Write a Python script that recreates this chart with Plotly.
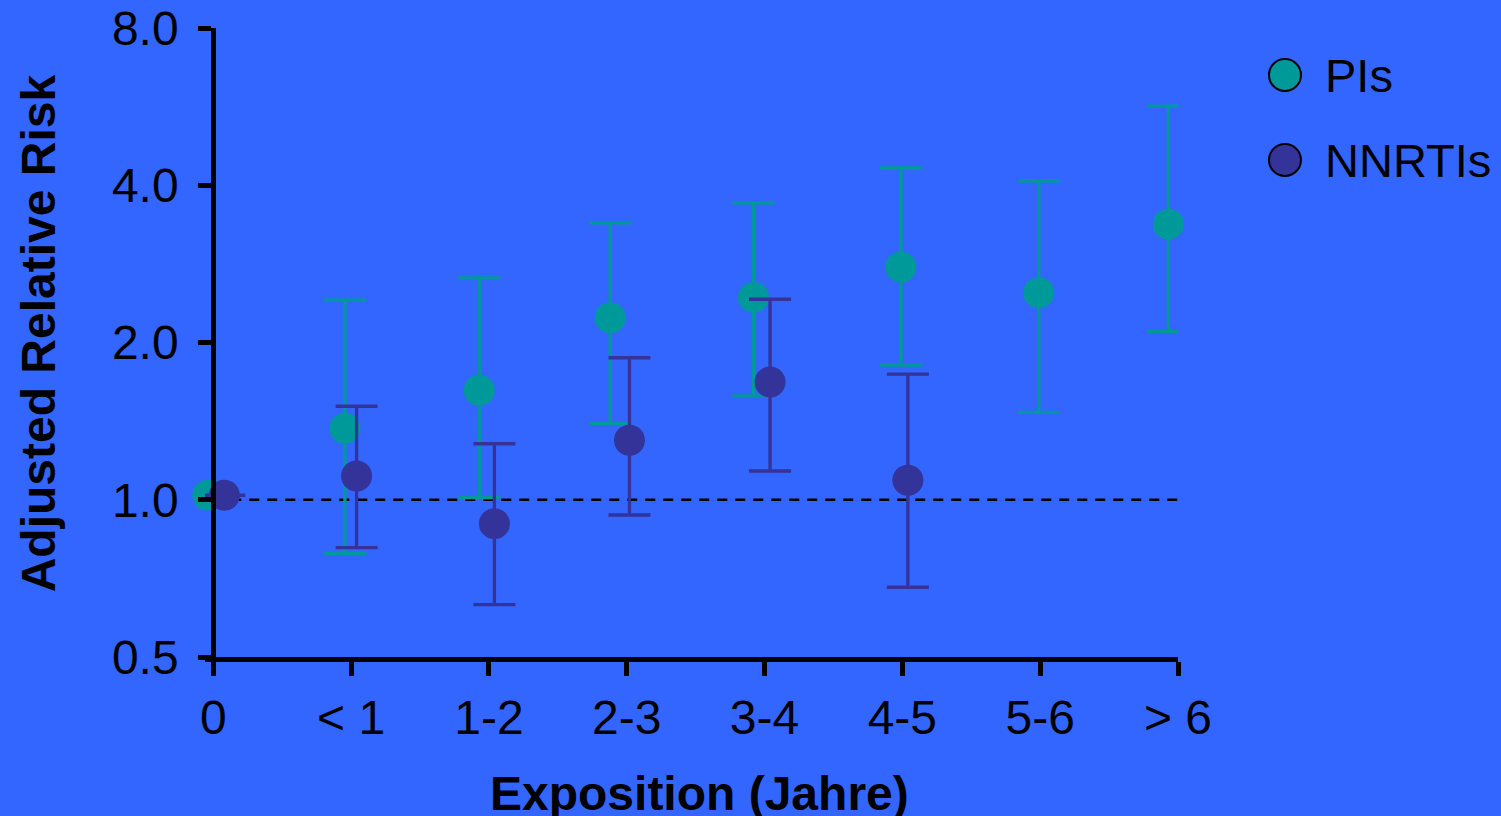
import plotly.graph_objects as go

categories = ["0", "< 1", "1-2", "2-3", "3-4", "4-5", "5-6", "> 6"]
cat_pos = [0, 1, 2, 3, 4, 5, 6, 7]

# PIs
pi_x = [-0.04, 0.955, 1.93, 2.88, 3.92, 4.99, 5.99, 6.93]
pi_rr = [1.02, 1.37, 1.62, 2.23, 2.44, 2.79, 2.49, 3.37]
pi_hi = [None, 2.41, 2.66, 3.39, 3.70, 4.32, 4.08, 5.67]
pi_lo = [None, 0.79, 1.01, 1.40, 1.58, 1.81, 1.47, 2.10]

# NNRTIs
nn_x = [0.08, 1.04, 2.04, 3.02, 4.04, 5.04]
nn_rr = [1.02, 1.11, 0.90, 1.30, 1.68, 1.09]
nn_hi = [None, 1.51, 1.28, 1.87, 2.42, 1.74]
nn_lo = [None, 0.81, 0.63, 0.935, 1.135, 0.68]

y_ticks = [0.5, 1.0, 2.0, 4.0, 8.0]
y_ticktext = ["0.5", "1.0", "2.0", "4.0", "8.0"]

BG = "#3366FF"
PI_C = "#009999"
NN_C = "#333399"
FONT = "Liberation Sans, Arial, sans-serif"
FS = 48

fig = go.Figure()


def add_series(x, rr, hi, lo, color, name):
    up = [None if h is None else h - r for h, r in zip(hi, rr)]
    dn = [None if l is None else r - l for r, l in zip(rr, lo)]
    fig.add_trace(go.Scatter(
        x=x, y=rr, mode="markers", name=name, showlegend=False,
        marker=dict(size=31, color=color, line=dict(width=0)),
        error_y=dict(type="data", symmetric=False, array=up, arrayminus=dn,
                     color=color, thickness=3.3, width=21),
        cliponaxis=False,
    ))


add_series(pi_x, pi_rr, pi_hi, pi_lo, PI_C, "PIs")
add_series(nn_x, nn_rr, nn_hi, nn_lo, NN_C, "NNRTIs")

fig.add_shape(type="line", xref="x", yref="y", x0=0, x1=7, y0=1.0, y1=1.0,
              line=dict(color="black", width=2.5, dash="10px,8px"), layer="below")

# geometry: x=0 sits at 213px, 1 category = 137.86px
x_min = -0.06
cat_px = 137.86
left = 213 - (0 - x_min) * cat_px
plot_w = 1178 - left
plot_top, plot_bot = 28, 657
plot_h = plot_bot - plot_top
yaxis_pos = (213 - left) / plot_w


def px_x(p):
    return (p - left) / plot_w


def px_y(p):
    return (plot_bot - p) / plot_h


# legend drawn in paper coords
legend_items = [("PIs", PI_C, 75), ("NNRTIs", NN_C, 160)]
for name, color, ypx in legend_items:
    fig.add_shape(type="circle", xref="paper", yref="paper",
                  xsizemode="pixel", ysizemode="pixel",
                  xanchor=px_x(1285), yanchor=px_y(ypx), x0=-16, x1=16, y0=-16, y1=16,
                  fillcolor=color, line=dict(color="black", width=2))
    fig.add_annotation(xref="paper", yref="paper", x=px_x(1323), y=px_y(ypx),
                       xanchor="left", yanchor="middle", text=name, showarrow=False,
                       font=dict(size=47, family=FONT, color="black"))

# axis titles
fig.add_annotation(xref="paper", yref="paper", x=px_x(699), y=px_y(794),
                   xanchor="center", yanchor="middle", showarrow=False,
                   text="<b>Exposition (Jahre)</b>", font=dict(size=FS, family=FONT, color="black"))
fig.add_annotation(xref="paper", yref="paper", x=px_x(38), y=px_y(333),
                   xanchor="center", yanchor="middle", showarrow=False, textangle=-90,
                   text="<b>Adjusted Relative Risk</b>", font=dict(size=FS, family=FONT, color="black"))

fig.update_layout(
    width=1501, height=816,
    paper_bgcolor=BG, plot_bgcolor=BG,
    margin=dict(l=left, r=1501 - 1178, t=plot_top, b=816 - plot_bot, autoexpand=False),
    font=dict(family=FONT, color="black", size=FS),
    showlegend=False,
    xaxis=dict(
        range=[x_min, 7], tickmode="array", tickvals=cat_pos, ticktext=categories,
        showline=True, linecolor="black", linewidth=5, automargin=False,
        ticks="outside", ticklen=14, tickwidth=5, tickcolor="black",
        showgrid=False, zeroline=False, tickfont=dict(size=FS),
        ticklabelstandoff=0,
    ),
    yaxis=dict(
        type="log", range=[-0.30103, 0.90309], tickmode="array",
        tickvals=y_ticks, ticktext=y_ticktext,
        anchor="free", position=yaxis_pos, automargin=False,
        showline=True, linecolor="black", linewidth=5,
        ticks="outside", ticklen=13, tickwidth=5, tickcolor="black",
        showgrid=False, zeroline=False, tickfont=dict(size=FS),
        ticklabelstandoff=10,
    ),
)

fig.write_html("out.html", config={"displayModeBar": False})
with open("out.html", encoding="utf-8") as f:
    html = f.read()
html = html.replace("<head>", "<head><style>html,body{margin:0;padding:0;overflow:hidden;}</style>", 1)
with open("out.html", "w", encoding="utf-8") as f:
    f.write(html)
